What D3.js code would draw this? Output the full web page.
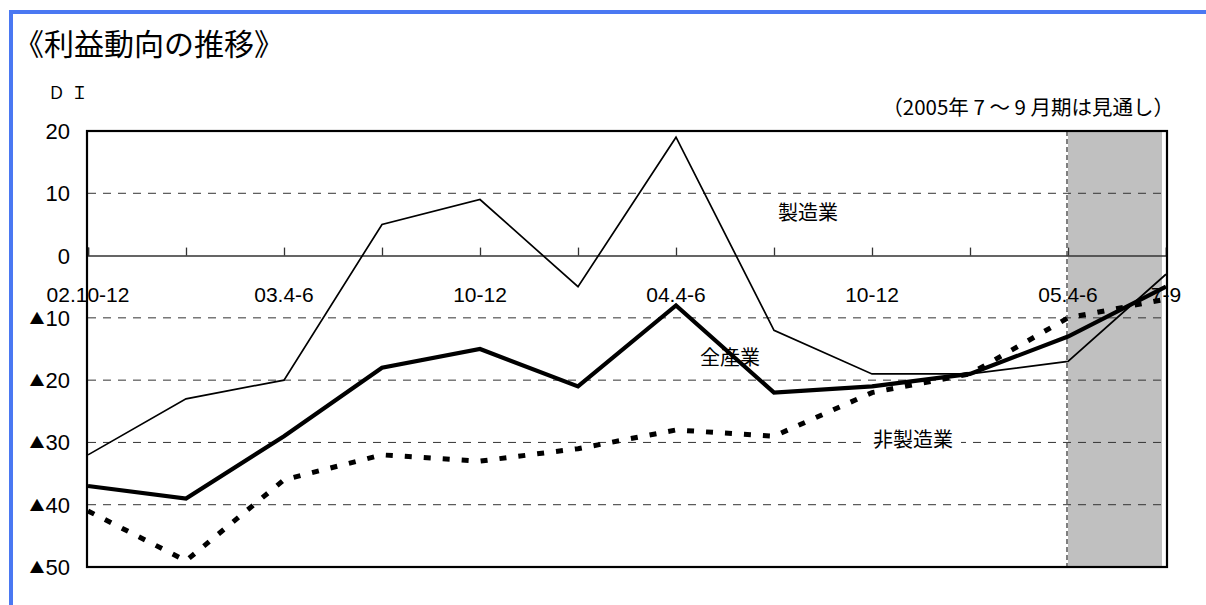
<!DOCTYPE html>
<html><head><meta charset="utf-8">
<script src="https://cdn.jsdelivr.net/npm/d3@7"></script>
<style>body{margin:0;background:#fff}svg{display:block}</style>
</head><body>
<svg id="chart" width="1206" height="605"></svg>
<script>
const categories = ["02.10-12","03.1-3","03.4-6","03.7-9","03.10-12","04.1-3","04.4-6","04.7-9","04.10-12","05.1-3","05.4-6","05.7-9"];
const xLabels = ["02.10-12","","03.4-6","","10-12","","04.4-6","","10-12","","05.4-6","7-9"];
const manufacturing = [-32,-23,-20,5,9,-5,19,-12,-19,-19,-17,-3];
const allIndustries = [-37,-39,-29,-18,-15,-21,-8,-22,-21,-19,-13,-5];
const nonManufacturing = [-41,-49,-36,-32,-33,-31,-28,-29,-22,-19,-10,-7];
const yTicks = [20,10,0,-10,-20,-30,-40,-50];
const forecastFrom = "05.4-6";

const JP = "'Noto Sans CJK JP','Noto Sans',sans-serif";
const NUM = "'Liberation Sans',Arial,sans-serif";

const svg = d3.select("#chart");
const L = 88, R = 1166, T = 131, B = 567;
const x = d3.scalePoint().domain(categories).range([L, R]).padding(0);
const y = d3.scaleLinear().domain([-50, 20]).range([B, T]);

// blue frame
svg.append("path").attr("d", `M11,605 V12 H1206`).attr("fill","none")
  .attr("stroke","#4a78f2").attr("stroke-width",4);

// title
svg.append("text").attr("x",14).attr("y",55).attr("font-family",JP)
  .attr("font-size",30).attr("fill","#000").text("《利益動向の推移》");
svg.append("text").attr("x",48).attr("y",99).attr("font-family",JP)
  .attr("font-size",17).attr("letter-spacing",6).attr("fill","#000").text("ＤＩ");
svg.append("text").attr("x",1174).attr("y",115).attr("text-anchor","end")
  .attr("font-family",JP).attr("font-size",20.5).attr("fill","#000")
  .text("（2005年 7 ～ 9 月期は見通し）");

// shaded forecast region
const xs = x(forecastFrom);
svg.append("rect").attr("x", xs).attr("y", T).attr("width", x(categories[categories.length-1]) - 4 - xs)
  .attr("height", B - T).attr("fill", "#c0c0c0");
svg.append("line").attr("x1", xs-1).attr("x2", xs-1).attr("y1", T).attr("y2", B)
  .attr("stroke","#555").attr("stroke-width",1.5).attr("stroke-dasharray","5,3");

// gridlines
svg.append("g").selectAll("line").data(yTicks.filter(v => v !== 0 && v !== 20 && v !== -50)).join("line")
  .attr("x1", L).attr("x2", R).attr("y1", d => y(d)).attr("y2", d => y(d))
  .attr("stroke", "#333").attr("stroke-width", 1).attr("stroke-dasharray", "8,7");

// zero axis with ticks
const axis = svg.append("g").attr("transform", `translate(0,${y(0)})`)
  .call(d3.axisTop(x).tickSize(8).tickFormat(""));
axis.select(".domain").attr("stroke","#333").attr("stroke-width",1.6);
axis.selectAll(".tick line").attr("stroke","#333").attr("stroke-width",1.3);

// x labels
svg.append("g").selectAll("text").data(categories).join("text")
  .attr("x", d => x(d)).attr("y", y(0) + 46).attr("text-anchor","middle")
  .attr("font-family", NUM).attr("font-size", 21).attr("fill","#000")
  .text((d,i) => xLabels[i]);

// y labels
const yl = svg.append("g").selectAll("text").data(yTicks).join("text")
  .attr("x", 70).attr("y", d => y(d) + 8).attr("text-anchor","end")
  .attr("font-family", NUM).attr("font-size", 22).attr("fill","#000");
yl.each(function(d){
  const t = d3.select(this);
  if (d < 0) {
    t.append("tspan").attr("font-family",JP).attr("font-size",15)
      .attr("dy",-2).text("▲");
    t.append("tspan").attr("dy",2).attr("dx",1).text(Math.abs(d));
  } else t.text(d);
});

// series labels
function label(txt, cx, cy, bg) {
  const g = svg.append("g");
  const t = g.append("text").attr("x",cx).attr("y",cy+7).attr("text-anchor","middle")
    .attr("font-family",JP).attr("font-size",20).attr("fill","#000").text(txt);
  if (bg) {
    const bb = t.node().getBBox();
    g.insert("rect","text").attr("x",bb.x-8).attr("y",bb.y).attr("width",bb.width+16)
      .attr("height",bb.height).attr("fill","#fff");
  }
}
label("製造業", 808, 213, false);
label("全産業", 730, 358, false);
label("非製造業", 913, 440, true);

// series lines
const line = d3.line().x((d,i) => x(categories[i])).y(d => y(d));
svg.append("path").datum(manufacturing).attr("d", line).attr("fill","none")
  .attr("stroke","#000").attr("stroke-width",1.7).attr("stroke-linejoin","miter");
svg.append("path").datum(allIndustries).attr("d", line).attr("fill","none")
  .attr("stroke","#000").attr("stroke-width",4.2);
svg.append("path").datum(nonManufacturing).attr("d", line).attr("fill","none")
  .attr("stroke","#000").attr("stroke-width",5).attr("stroke-dasharray","7,12");

// plot border
svg.append("rect").attr("x", L-1).attr("y", T).attr("width", R - L + 2).attr("height", B - T)
  .attr("fill","none").attr("stroke","#000").attr("stroke-width",2.2);
</script>
</body></html>
